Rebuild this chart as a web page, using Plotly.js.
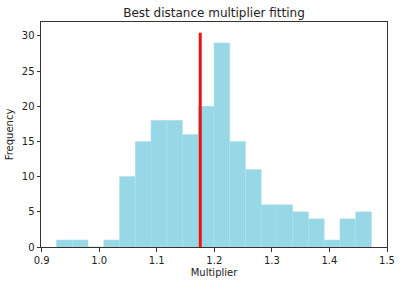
<!DOCTYPE html>
<html>
<head>
<meta charset="utf-8">
<script src="https://cdn.plot.ly/plotly-3.0.1.min.js"></script>
<style>html,body{margin:0;padding:0;background:#fff;}#chart{width:400px;height:285px;}</style>
</head>
<body>
<div id="chart"></div>
<script>
// Histogram data
var binStart = 0.926;
var binWidth = 0.02735;
var counts = [1, 1, 0, 1, 10, 15, 18, 18, 16, 20, 29, 15, 11, 6, 6, 5, 4, 1, 4, 5];
var bestMultiplier = 1.1756;
var lineTop = 30.45;
var xTicks = [0.9, 1.0, 1.1, 1.2, 1.3, 1.4, 1.5];
var xTickLabels = ['0.9', '1.0', '1.1', '1.2', '1.3', '1.4', '1.5'];
var yTicks = [0, 5, 10, 15, 20, 25, 30];

var centers = counts.map(function (c, i) { return binStart + binWidth * (i + 0.5); });

var traces = [
  {
    type: 'bar',
    x: centers,
    y: counts,
    width: counts.map(function () { return binWidth; }),
    marker: { color: '#98d7e5', line: { color: '#ade0ea', width: 0.5 } },
    hoverinfo: 'skip'
  },
  {
    type: 'scatter',
    mode: 'lines',
    x: [bestMultiplier, bestMultiplier],
    y: [0, lineTop],
    line: { color: '#ee1111', width: 3 },
    hoverinfo: 'skip'
  }
];

var axisCommon = {
  showgrid: false,
  zeroline: false,
  showline: true,
  linecolor: '#333',
  linewidth: 1,
  mirror: true,
  ticks: 'outside',
  ticklen: 3.5,
  tickwidth: 1,
  tickcolor: '#333',
  tickfont: { family: 'DejaVu Sans', size: 10, color: '#222' }
};

var layout = {
  width: 400,
  height: 285,
  margin: { l: 41, r: 13, t: 22, b: 38 },
  paper_bgcolor: '#fff',
  plot_bgcolor: '#fff',
  showlegend: false,
  bargap: 0,
  title: {
    text: 'Best distance multiplier fitting',
    font: { family: 'DejaVu Sans', size: 12, color: '#222' },
    x: 0.535, xanchor: 'center', y: 0.955, yanchor: 'middle'
  },
  xaxis: Object.assign({}, axisCommon, {
    range: [0.899, 1.5],
    tickvals: xTicks,
    ticktext: xTickLabels,
    title: { text: 'Multiplier', font: { family: 'DejaVu Sans', size: 10, color: '#222' }, standoff: 4 }
  }),
  yaxis: Object.assign({}, axisCommon, {
    range: [0, 31.97],
    tickvals: yTicks,
    title: { text: 'Frequency', font: { family: 'DejaVu Sans', size: 10, color: '#222' }, standoff: 6 }
  })
};

Plotly.newPlot('chart', traces, layout, { staticPlot: true, displayModeBar: false });
</script>
</body>
</html>
